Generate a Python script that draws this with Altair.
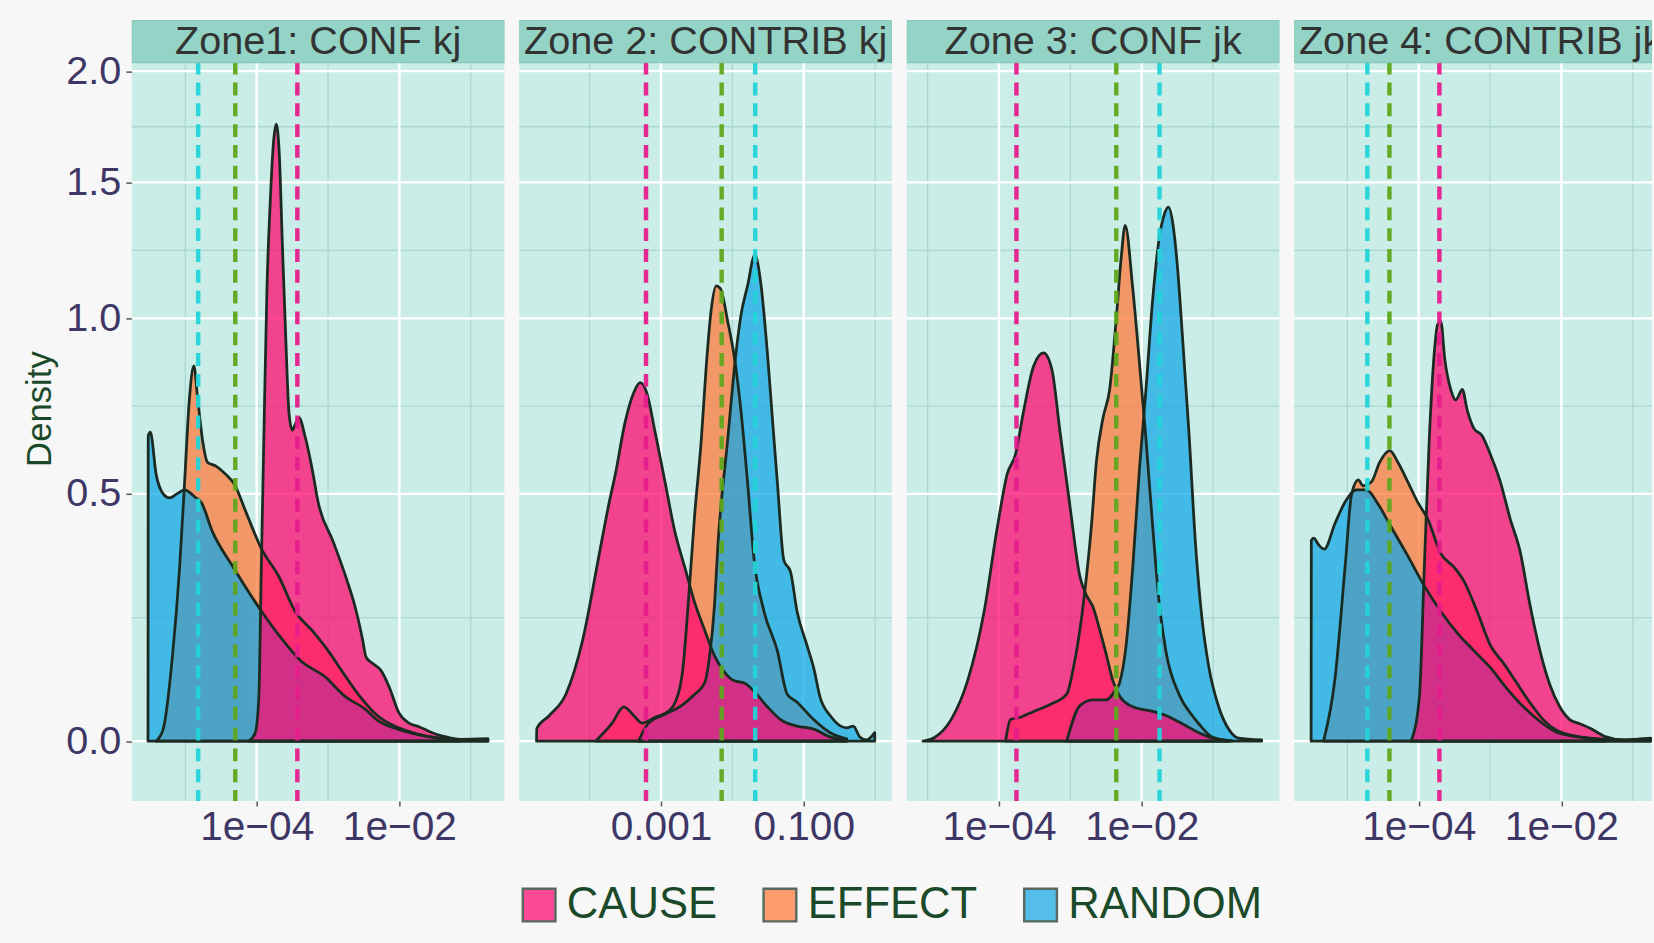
import altair as alt
import pandas as pd

PANELS = ["Zone1: CONF kj", "Zone 2: CONTRIB kj", "Zone 3: CONF jk", "Zone 4: CONTRIB jk"]
GROUPS = ["CAUSE", "EFFECT", "RANDOM"]
FILL_COLORS = ["#ff0a72", "#ff7a3c", "#16a7e6"]
MEDIAN_COLORS = ["#e51c8c", "#5ea61c", "#22d4d8"]

# ---- density curves: x given as log10 exponents, density values ----
P1_CAUSE_LX = [-4.11, -4.02, -3.97, -3.935, -3.90, -3.856, -3.81, -3.764, -3.727, -3.685, -3.639, -3.593, -3.546, -3.50, -3.463, -3.407, -3.324, -3.22, -3.139, -2.93, -2.746, -2.607, -2.514, -2.468, -2.375, -2.259, -2.143, -2.004, -1.865, -1.726, -1.54, -1.38, -1.15, -0.76]
P1_CAUSE_D = [0, 0.014, 0.074, 0.33, 0.64, 1.10, 1.42, 1.67, 1.75, 1.63, 1.25, 0.94, 0.71, 0.665, 0.68, 0.70, 0.65, 0.56, 0.48, 0.388, 0.307, 0.239, 0.18, 0.148, 0.136, 0.123, 0.093, 0.047, 0.030, 0.024, 0.014, 0.008, 0.003, 0.004]
P1_EFFECT_LX = [-5.41, -5.31, -5.18, -5.08, -5.01, -4.94, -4.88, -4.83, -4.76, -4.69, -4.57, -4.44, -4.30, -4.16, -3.93, -3.69, -3.46, -3.23, -3.00, -2.77, -2.54, -2.31, -2.07, -1.84, -1.61, -1.15]
P1_EFFECT_D = [0, 0.02, 0.15, 0.33, 0.53, 0.76, 0.85, 0.76, 0.64, 0.58, 0.57, 0.55, 0.52, 0.46, 0.37, 0.31, 0.237, 0.20, 0.16, 0.115, 0.074, 0.043, 0.025, 0.015, 0.008, 0.002]
P1_RANDOM_LX = [-5.523, -5.52, -5.49, -5.41, -5.31, -5.22, -5.12, -5.01, -4.85, -4.78, -4.62, -4.32, -3.94, -3.69, -3.39, -3.03, -2.77, -2.47, -2.31, -2.0, -1.61, -1.15, -0.76]
P1_RANDOM_D = [0, 0.65, 0.66, 0.55, 0.50, 0.49, 0.50, 0.51, 0.49, 0.48, 0.41, 0.328, 0.239, 0.19, 0.142, 0.11, 0.077, 0.053, 0.035, 0.019, 0.008, 0.003, 0.003]

P2_CAUSE_LX = [-4.744, -4.741, -4.565, -4.333, -4.102, -3.87, -3.731, -3.639, -3.5, -3.384, -3.292, -3.199, -3.083, -2.944, -2.806, -2.667, -2.528, -2.389, -2.25, -2.111, -1.972, -1.833, -1.694, -1.509, -1.324, -1.093, -0.861, -0.63, -0.398]
P2_CAUSE_D = [0, 0.021, 0.043, 0.08, 0.178, 0.355, 0.475, 0.55, 0.69, 0.77, 0.80, 0.77, 0.66, 0.53, 0.41, 0.33, 0.255, 0.20, 0.15, 0.12, 0.104, 0.10, 0.085, 0.058, 0.036, 0.025, 0.02, 0.007, 0.002]
P2_EFFECT_LX = [-3.917, -3.685, -3.523, -3.361, -3.269, -3.083, -2.898, -2.759, -2.69, -2.62, -2.528, -2.435, -2.366, -2.296, -2.227, -2.167, -2.065, -1.972, -1.88, -1.787, -1.694, -1.556, -1.37, -1.231, -1.093, -0.861, -0.63, -0.398]
P2_EFFECT_D = [0, 0.03, 0.058, 0.04, 0.03, 0.04, 0.05, 0.08, 0.13, 0.25, 0.45, 0.64, 0.85, 1.03, 1.11, 1.10, 0.99, 0.877, 0.72, 0.528, 0.345, 0.237, 0.16, 0.08, 0.066, 0.036, 0.014, 0.004]
P2_RANDOM_LX = [-3.315, -3.176, -2.944, -2.713, -2.528, -2.389, -2.319, -2.25, -2.204, -2.065, -1.949, -1.88, -1.787, -1.685, -1.602, -1.509, -1.44, -1.37, -1.278, -1.185, -1.093, -0.954, -0.861, -0.769, -0.63, -0.398, -0.306, -0.213, -0.12, -0.005]
P2_RANDOM_D = [0, 0.03, 0.045, 0.06, 0.08, 0.10, 0.15, 0.25, 0.375, 0.64, 0.89, 1.01, 1.11, 1.22, 1.12, 0.89, 0.70, 0.53, 0.345, 0.32, 0.237, 0.17, 0.128, 0.074, 0.043, 0.022, 0.025, 0.007, 0.002, 0.014]

P3_CAUSE_LX = [-5.065, -4.903, -4.671, -4.44, -4.208, -4.023, -3.884, -3.769, -3.653, -3.514, -3.375, -3.259, -3.144, -3.005, -2.866, -2.773, -2.68, -2.588, -2.495, -2.403, -2.31, -2.125, -1.847, -1.662, -1.431, -1.199, -0.968, -0.736]
P3_CAUSE_D = [0, 0.006, 0.036, 0.104, 0.237, 0.42, 0.55, 0.60, 0.72, 0.85, 0.89, 0.84, 0.66, 0.47, 0.31, 0.27, 0.245, 0.20, 0.152, 0.104, 0.077, 0.058, 0.05, 0.043, 0.029, 0.014, 0.004, 0.001]
P3_EFFECT_LX = [-3.907, -3.838, -3.699, -3.514, -3.282, -3.051, -2.958, -2.866, -2.796, -2.704, -2.634, -2.542, -2.449, -2.356, -2.287, -2.231, -2.125, -2.032, -1.94, -1.847, -1.755, -1.662, -1.477, -1.292, -1.199, -1.014, -0.782]
P3_EFFECT_D = [0, 0.036, 0.04, 0.05, 0.062, 0.08, 0.127, 0.20, 0.28, 0.424, 0.583, 0.699, 0.78, 1.0, 1.21, 1.33, 1.10, 0.862, 0.64, 0.424, 0.255, 0.16, 0.08, 0.043, 0.029, 0.007, 0.001]
P3_RANDOM_LX = [-3.051, -2.866, -2.68, -2.495, -2.38, -2.31, -2.218, -2.125, -2.032, -1.94, -1.847, -1.755, -1.685, -1.625, -1.56, -1.5, -1.431, -1.338, -1.245, -1.153, -1.06, -0.921, -0.782, -0.644, -0.319]
P3_RANDOM_D = [0, 0.06, 0.07, 0.07, 0.085, 0.10, 0.17, 0.33, 0.56, 0.78, 1.06, 1.28, 1.37, 1.40, 1.33, 1.18, 0.95, 0.66, 0.38, 0.22, 0.13, 0.058, 0.02, 0.005, 0.002]

P4_CAUSE_LX = [-4.106, -3.991, -3.921, -3.852, -3.782, -3.736, -3.69, -3.634, -3.551, -3.481, -3.389, -3.319, -3.227, -3.111, -2.995, -2.856, -2.718, -2.579, -2.44, -2.301, -2.162, -2.023, -1.884, -1.745, -1.606, -1.375, -1.144, -0.75]
P4_CAUSE_D = [0, 0.074, 0.33, 0.64, 0.89, 0.98, 0.99, 0.87, 0.78, 0.75, 0.78, 0.72, 0.67, 0.65, 0.60, 0.53, 0.44, 0.365, 0.25, 0.16, 0.097, 0.058, 0.036, 0.029, 0.022, 0.007, 0.002, 0.005]
P4_EFFECT_LX = [-5.333, -5.171, -5.032, -4.94, -4.847, -4.778, -4.662, -4.546, -4.407, -4.292, -4.153, -4.014, -3.875, -3.69, -3.505, -3.366, -3.181, -2.995, -2.81, -2.625, -2.44, -2.255, -2.069, -1.838, -1.375]
P4_EFFECT_D = [0, 0.11, 0.33, 0.50, 0.535, 0.52, 0.53, 0.58, 0.61, 0.58, 0.53, 0.48, 0.44, 0.36, 0.33, 0.30, 0.237, 0.17, 0.136, 0.10, 0.065, 0.036, 0.018, 0.009, 0.002]
P4_RANDOM_LX = [-5.508, -5.505, -5.472, -5.403, -5.324, -5.171, -5.032, -4.870, -4.731, -4.569, -4.384, -4.153, -3.921, -3.69, -3.458, -3.227, -2.995, -2.764, -2.532, -2.301, -2.069, -1.606, -1.144, -0.75]
P4_RANDOM_D = [0, 0.39, 0.395, 0.38, 0.37, 0.43, 0.48, 0.51, 0.51, 0.475, 0.42, 0.355, 0.29, 0.237, 0.194, 0.16, 0.128, 0.09, 0.058, 0.033, 0.015, 0.005, 0.002, 0.004]

# dashed reference lines (log10 exponents), order CAUSE, EFFECT, RANDOM
P1_MEDIANS = [-3.43, -4.30, -4.82]
P2_MEDIANS = [-3.21, -2.15, -1.68]
P3_MEDIANS = [-3.755, -2.356, -1.75]
P4_MEDIANS = [-3.71, -4.41, -4.72]

# axis ranges / breaks (the 4th panel is cut by the picture's right edge)
X_RANGE_LX = [[-5.75, -0.528], [-4.986, 0.236], [-5.292, -0.07], [-5.744, -0.730]]
X_MAJOR = [[1e-4, 1e-2], [1e-3, 1e-1], [1e-4, 1e-2], [1e-4, 1e-2]]
X_LABELS = [["1e\u221204", "1e\u221202"], ["0.001", "0.100"], ["1e\u221204", "1e\u221202"], ["1e\u221204", "1e\u221202"]]
X_MINOR = [[1e-5, 1e-3, 1e-1], [1e-4, 1e-2, 1.0], [1e-5, 1e-3, 1e-1], [1e-5, 1e-3, 1e-1]]
Y_MAJOR = [0, 0.5, 1.0, 1.5, 2.0]
Y_MINOR = [0.2247, 0.7321, 1.2361, 1.7386]
Y_RANGE = [-0.1031, 2.2619]   # top part of the range holds the strip

CURVES = [
    {"CAUSE": (P1_CAUSE_LX, P1_CAUSE_D), "EFFECT": (P1_EFFECT_LX, P1_EFFECT_D), "RANDOM": (P1_RANDOM_LX, P1_RANDOM_D)},
    {"CAUSE": (P2_CAUSE_LX, P2_CAUSE_D), "EFFECT": (P2_EFFECT_LX, P2_EFFECT_D), "RANDOM": (P2_RANDOM_LX, P2_RANDOM_D)},
    {"CAUSE": (P3_CAUSE_LX, P3_CAUSE_D), "EFFECT": (P3_EFFECT_LX, P3_EFFECT_D), "RANDOM": (P3_RANDOM_LX, P3_RANDOM_D)},
    {"CAUSE": (P4_CAUSE_LX, P4_CAUSE_D), "EFFECT": (P4_EFFECT_LX, P4_EFFECT_D), "RANDOM": (P4_RANDOM_LX, P4_RANDOM_D)},
]
MEDIANS = [P1_MEDIANS, P2_MEDIANS, P3_MEDIANS, P4_MEDIANS]

# ---- style ----
WIDTHS = [376, 376, 376, 361]
FULL_W = 376
H = 788
STRIP_H = 43
FONT = "Liberation Sans"
PANEL_BG = "#cbede7"
STRIP_FILL = "#94d4c7"
STRIP_STROKE = "#80c2b5"
MINOR_GRID = "#a9d8d0"
OUTLINE = "#1b2b21"
TICK_LABEL = "#3e3766"
GREEN_TEXT = "#1b4a2b"


def curve_df(lx, d, group):
    return pd.DataFrame({"x": [10 ** v for v in lx], "d": d, "group": group})


def label_expr(vals, labels):
    expr = "''"
    for v, lab in zip(vals, labels):
        expr = f"abs(datum.value/{v!r} - 1) < 0.01 ? '{lab}' : " + expr
    return expr


color_scale = alt.Scale(domain=GROUPS, range=FILL_COLORS)
legend = alt.Legend(title=None, orient="none", legendX=389, legendY=871,
                    direction="horizontal", symbolType="square", symbolSize=1089,
                    symbolStrokeColor="#1b3325", symbolStrokeWidth=2.4,
                    symbolOpacity=0.72, labelFont=FONT, labelFontSize=44,
                    labelColor=GREEN_TEXT, labelOffset=6, columnPadding=41,
                    labelLimit=400)

panels = []
for i, name in enumerate(PANELS):
    W = WIDTHS[i]
    xs = alt.Scale(type="log", domain=[10 ** X_RANGE_LX[i][0], 10 ** X_RANGE_LX[i][1]], nice=False)
    ys = alt.Scale(type="symlog", constant=1, domain=Y_RANGE, nice=False, zero=False)
    xaxis = alt.Axis(values=X_MAJOR[i], labelExpr=label_expr(X_MAJOR[i], X_LABELS[i]),
                     grid=False, domain=False, ticks=True, tickSize=5, tickColor="#555555",
                     tickWidth=1.5, labelFont=FONT, labelFontSize=41, labelColor=TICK_LABEL,
                     labelPadding=2, title=None, labelFlush=False, labelOverlap=False)
    if i == 0:
        yaxis = alt.Axis(values=Y_MAJOR, format=".1f", grid=False, domain=False,
                         tickSize=6, tickColor="#555555", tickWidth=1.5,
                         labelFont=FONT, labelFontSize=40, labelColor=TICK_LABEL,
                         labelPadding=5, title="Density", titleFont=FONT,
                         titleFontSize=35, titleColor=GREEN_TEXT,
                         titleFontWeight="normal", titlePadding=8, titleY=392)
    else:
        yaxis = None

    X = lambda f: alt.X(f, scale=xs, axis=xaxis)
    Y = lambda f: alt.Y(f, scale=ys, axis=yaxis, stack=None)

    layers = []
    # grid
    layers.append(alt.Chart(pd.DataFrame({"v": X_MINOR[i]})).mark_rule(color=MINOR_GRID, strokeWidth=1.3)
                  .encode(x=X("v:Q")))
    layers.append(alt.Chart(pd.DataFrame({"v": Y_MINOR})).mark_rule(color=MINOR_GRID, strokeWidth=1.3)
                  .encode(y=Y("v:Q")))
    layers.append(alt.Chart(pd.DataFrame({"v": X_MAJOR[i]})).mark_rule(color="#ffffff", strokeWidth=2.4)
                  .encode(x=X("v:Q")))
    layers.append(alt.Chart(pd.DataFrame({"v": Y_MAJOR})).mark_rule(color="#ffffff", strokeWidth=2.4)
                  .encode(y=Y("v:Q")))
    # filled densities (pink drawn last)
    all_df = []
    for g in ["EFFECT", "RANDOM", "CAUSE"]:
        lx, d = CURVES[i][g]
        df = curve_df(lx, d, g)
        all_df.append(df)
        layers.append(alt.Chart(df).mark_area(fillOpacity=0.75, clip=True, interpolate="monotone")
                      .encode(x=X("x:Q"), y=Y("d:Q"),
                              color=alt.Color("group:N", scale=color_scale, legend=legend)))
    outline_df = pd.concat(all_df, ignore_index=True)
    layers.append(alt.Chart(outline_df).mark_area(fill="transparent", stroke=OUTLINE,
                                                  strokeWidth=2.8, strokeJoin="round", clip=True,
                                                  interpolate="monotone")
                  .encode(x=X("x:Q"), y=Y("d:Q"), detail="group:N"))
    # dashed reference lines, one layer per group with a fixed colour
    for k, g in enumerate(GROUPS):
        med_df = pd.DataFrame({"m": [10 ** MEDIANS[i][k]]})
        layers.append(alt.Chart(med_df).mark_rule(strokeDash=[13, 8], strokeWidth=4.5, opacity=0.95,
                                                  clip=True, color=MEDIAN_COLORS[k])
                      .encode(x=X("m:Q")))
    # strip on top of the panel
    strip_df = pd.DataFrame({"panel": [name]})
    layers.append(alt.Chart(strip_df).mark_rect(fill=STRIP_FILL, stroke=STRIP_STROKE, strokeWidth=1, clip=True)
                  .encode(x=alt.value(0), x2=alt.value(W), y=alt.value(0), y2=alt.value(STRIP_H)))
    layers.append(alt.Chart(strip_df).mark_text(font=FONT, fontSize=40, color="#333333",
                                                align="center", baseline="middle", clip=True)
                  .encode(x=alt.value(FULL_W / 2), y=alt.value(STRIP_H / 2 + 1), text="panel:N"))

    panels.append(alt.layer(*layers).properties(width=W, height=H))

chart = (
    alt.hconcat(*panels, spacing=11)
    .resolve_scale(x="independent", y="independent", color="shared")
    .properties(background="#f7f7f7", padding={"left": 23, "top": 14, "right": 0, "bottom": 12})
    .configure_view(fill=PANEL_BG, strokeWidth=0)
)

chart.save("out.html", embed_options={"renderer": "svg", "actions": False})
